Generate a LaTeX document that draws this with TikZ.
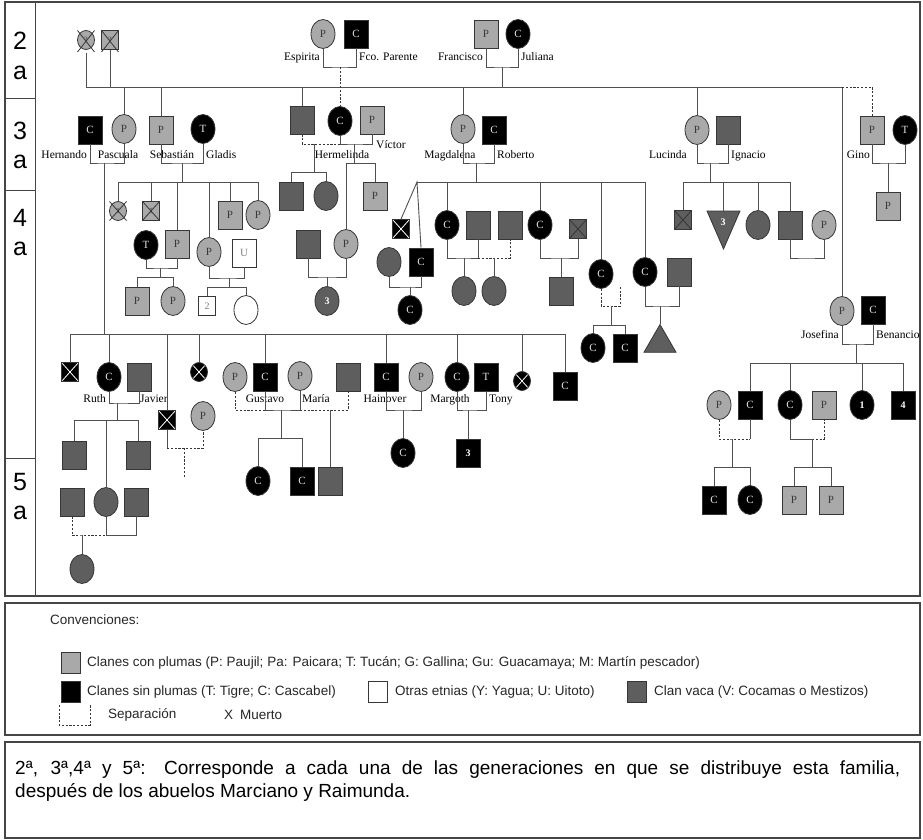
\documentclass[tikz,border=0pt]{standalone}
\usepackage{fontspec}
\setmainfont{Liberation Serif}
\setsansfont{Liberation Sans}
\usepackage{tikz}
\usetikzlibrary{shapes.geometric, positioning}
\definecolor{plumacolor}{HTML}{A9A9A9}
\definecolor{vacacolor}{HTML}{5E5E5E}
\definecolor{edgecolor}{HTML}{363636}
\definecolor{linecolor}{HTML}{505050}
\definecolor{framecolor}{HTML}{454545}
\definecolor{plumatext}{HTML}{3A3A3A}
\definecolor{sintext}{HTML}{E4E4E4}

\begin{document}
\begin{tikzpicture}[x=1pt, y=-1pt,
    sq/.style={rectangle, draw=edgecolor, line width=0.8pt, minimum width=24pt, minimum height=28pt, inner sep=0pt, font=\fontsize{11}{11}\selectfont},
    ci/.style={ellipse, draw=edgecolor, line width=0.8pt, minimum width=24pt, minimum height=29pt, inner sep=0pt, font=\fontsize{11}{11}\selectfont},
    chico/.style={minimum width=17pt, minimum height=19pt, font=\fontsize{8}{8}\selectfont},
    pl/.style={fill=plumacolor, text=plumatext},
    sp/.style={fill=black, text=sintext},
    va/.style={fill=vacacolor, text=white},
    ot/.style={fill=white, text=gray},
    num/.style={font=\fontsize{10}{10}\selectfont\bfseries, text=white},
    dead/.style={path picture={\draw[#1, line width=0.8pt]
        (path picture bounding box.north west) -- (path picture bounding box.south east)
        (path picture bounding box.south west) -- (path picture bounding box.north east);}},
    cruz/.style={draw=edgecolor, line width=0.8pt},
    ln/.style={draw=linecolor, line width=0.9pt},
    sep/.style={draw=edgecolor, line width=0.9pt, dash pattern=on 2.2pt off 1.6pt},
    lbl/.style={font=\fontsize{11.5}{11.5}\selectfont, inner sep=0pt, text height=7.5pt, text depth=2pt},
    gen/.style={font=\sffamily\fontsize{25}{25}\selectfont, inner sep=0pt},
    leg/.style={font=\sffamily\fontsize{13.5}{13.5}\selectfont, text=black!85, anchor=west, inner sep=0pt},
    keybox/.style={rectangle, draw=edgecolor, line width=0.8pt, minimum width=19pt, minimum height=21pt, inner sep=0pt}
]
    \useasboundingbox (0,0) rectangle (923,840);

    % --- marco y columna de generaciones ---
    \draw[framecolor, line width=1.3pt] (5,2) rectangle (920,596);
    \draw[framecolor, line width=1pt] (35,2) -- (35,596);
    \draw[framecolor, line width=1pt] (5,99) -- (35,99) (5,190) -- (35,190) (5,458) -- (35,458);
    \node[gen] (n2) at (20,41) {2};
    \node[gen] (a2) at (20,73) {a};
    \node[gen] (n3) at (20,131) {3};
    \node[gen] (a3) at (20,162) {a};
    \node[gen] (n4) at (20,218) {4};
    \node[gen] (a4) at (20,249) {a};
    \node[gen] (n5) at (20,482) {5};
    \node[gen] (a5) at (20,513) {a};

    % --- 2a generacion ---
    \node[ci, chico, pl] (abuA) at (86,40) {?};
    \node[sq, chico, pl] (abuB) at (110,40) {?};
    \draw[cruz] ([xshift=-8.5pt, yshift=9.5pt]abuA.center) -- ([xshift=8.5pt, yshift=-12pt]abuA.center)
                ([xshift=8.5pt, yshift=9.5pt]abuA.center) -- ([xshift=-8.5pt, yshift=-12pt]abuA.center);
    \draw[cruz] ([xshift=-8.5pt, yshift=9.5pt]abuB.center) -- ([xshift=8.5pt, yshift=-12pt]abuB.center)
                ([xshift=8.5pt, yshift=9.5pt]abuB.center) -- ([xshift=-8.5pt, yshift=-12pt]abuB.center);
    \node[ci, pl] (espirita) at (323,34) {P};
    \node[sq, sp] (parente) at (356,34) {C};
    \node[sq, pl] (francisco) at (486,34) {P};
    \node[ci, sp] (juliana) at (518,34) {C};
    \node[lbl, anchor=east] (lEspirita) at (320,58) {Espirita};
    \node[lbl, anchor=west] (lParente) at (359,58) {Fco. Parente};
    \node[lbl, anchor=east] (lFrancisco) at (483,58) {Francisco};
    \node[lbl, anchor=west] (lJuliana) at (521,58) {Juliana};

    % --- 3a generacion ---
    \node[sq, sp] (hernando) at (90,130) {C};
    \node[ci, pl] (pascuala) at (124,129) {P};
    \node[sq, pl] (sebastian) at (161,130) {P};
    \node[ci, sp] (gladis) at (203,129) {T};
    \node[sq, va] (vacaA) at (302,120) {};
    \node[ci, sp] (hermelinda) at (340,121) {C};
    \node[sq, pl] (victor) at (372,120) {P};
    \node[ci, pl] (magdalena) at (463,129) {P};
    \node[sq, sp] (roberto) at (494,130) {C};
    \node[ci, pl] (lucinda) at (697,130) {P};
    \node[sq, va] (ignacio) at (728,130) {};
    \node[sq, pl] (gino) at (872,130) {P};
    \node[ci, sp] (ginoT) at (905,130) {T};
    \node[lbl, anchor=east] (lHernando) at (87,156) {Hernando};
    \node[lbl] (lPascuala) at (118,156) {Pascuala};
    \node[lbl] (lSebastian) at (172,156) {Sebastián};
    \node[lbl, anchor=west] (lGladis) at (206,156) {Gladis};
    \node[lbl, anchor=west] (lVictor) at (376,146) {Víctor};
    \node[lbl] (lHermelinda) at (342,156) {Hermelinda};
    \node[lbl] (lMagdalena) at (450,156) {Magdalena};
    \node[lbl, anchor=west] (lRoberto) at (497,156) {Roberto};
    \node[lbl] (lLucinda) at (668,156) {Lucinda};
    \node[lbl, anchor=west] (lIgnacio) at (731,156) {Ignacio};
    \node[lbl, anchor=east] (lGino) at (870,156) {Gino};

    % --- 4a generacion: hijos de Sebastian y Gladis ---
    \node[ci, chico, pl] (sA) at (118,211) {1};
    \draw[cruz] ([xshift=-8.5pt, yshift=9.5pt]sA.center) -- ([xshift=8.5pt, yshift=-9.5pt]sA.center)
                ([xshift=8.5pt, yshift=9.5pt]sA.center) -- ([xshift=-8.5pt, yshift=-9.5pt]sA.center);
    \node[sq, chico, pl, dead=edgecolor] (sB) at (151,211) {1};
    \node[sq, pl] (sC) at (177,244) {P};
    \node[ci, sp] (sCw) at (146,245) {T};
    \node[ci, pl] (sD) at (209,252) {P};
    \node[sq, ot] (sDh) at (244,253) {U};
    \node[sq, pl] (sE) at (230,215) {P};
    \node[ci, pl] (sF) at (258,215) {P};
    \node[sq, pl] (sC1) at (137,301) {P};
    \node[ci, pl] (sC2) at (173,301) {P};
    \node[sq, chico, ot, font=\fontsize{10}{10}\selectfont] (sD1) at (207,306) {2};
    \node[ci, ot] (sD2) at (246,310) {};

    % --- hijos de Hermelinda ---
    \node[sq, va] (hA) at (291,196) {};
    \node[ci, va] (hB) at (326,196) {};
    \node[sq, pl] (vA) at (375,196) {P};
    \node[ci, pl] (v2) at (346,244) {P};
    \node[sq, va] (v2h) at (308,244) {};
    \node[ci, va, num] (v2c) at (327,301) {3};

    % --- hijos de Magdalena y Roberto ---
    \node[sq, chico, sp, dead=white] (mA) at (401,229) {};
    \node[sq, sp] (mB) at (421,262) {C};
    \node[ci, va] (mBw) at (389,262) {};
    \node[ci, sp] (mBc) at (410,310) {C};
    \node[ci, sp] (mC) at (447,225) {C};
    \node[sq, va] (mCh1) at (478,225) {};
    \node[sq, va] (mCh2) at (510,225) {};
    \node[ci, va] (mCc1) at (464,291) {};
    \node[ci, va] (mCc2) at (494,291) {};
    \node[ci, sp] (mD) at (540,225) {C};
    \node[sq, chico, va, dead=edgecolor] (mDh) at (578,229) {};
    \node[sq, va] (mDc) at (561,291) {};
    \node[ci, sp] (mE) at (601,274) {C};
    \node[ci, sp] (mEc1) at (593,348) {C};
    \node[sq, sp] (mEc2) at (625,348) {C};
    \node[ci, sp] (mF) at (645,272) {C};
    \node[sq, va] (mFh) at (679,272) {};
    \node[regular polygon, regular polygon sides=3, minimum size=37pt, inner sep=0pt,
          draw=edgecolor, fill=vacacolor, line width=0.8pt] (mFc) at (660,343) {};

    % --- hijos de Lucinda e Ignacio ---
    \node[sq, chico, va, dead=edgecolor] (lA) at (683,220) {};
    \draw[draw=edgecolor, fill=vacacolor, line width=0.8pt] (707,211) -- (740,211) -- (723.5,249) -- cycle;
    \coordinate (lBt) at (723,211);
    \node[num] (lB) at (723,222) {3};
    \node[ci, va] (lC) at (758,225) {};
    \node[sq, va] (lD) at (790,225) {};
    \node[ci, pl] (lDw) at (824,225) {P};

    % --- Gino ---
    \node[sq, pl] (gc) at (888,206) {P};

    % --- Josefina y Benancio ---
    \node[ci, pl] (josefina) at (842,311) {P};
    \node[sq, sp] (benancio) at (873,310) {C};
    \node[lbl, anchor=east] (lJosefina) at (839,336) {Josefina};
    \node[lbl, anchor=west] (lBenancio) at (876,336) {Benancio};
    \node[ci, pl] (jA) at (719,405) {P};
    \node[sq, sp] (jB) at (750,405) {C};
    \node[ci, sp] (jC) at (790,405) {C};
    \node[sq, pl] (jD) at (824,405) {P};
    \node[ci, sp, num] (jE) at (862,405) {1};
    \node[sq, sp, num] (jF) at (903,405) {4};
    \node[sq, sp] (jB1) at (714,500) {C};
    \node[ci, sp] (jB2) at (750,500) {C};
    \node[sq, pl] (jC1) at (794,500) {P};
    \node[sq, pl] (jC2) at (831,500) {P};

    % --- hijos de Pascuala y Hernando ---
    \node[sq, chico, sp, dead=white] (pA) at (70,372) {};
    \node[ci, sp] (ruth) at (109,377) {C};
    \node[sq, va] (javier) at (139,377) {};
    \node[sq, va] (r1) at (74,455) {};
    \node[ci, va] (r2) at (106,502) {};
    \node[sq, va] (r3) at (138,455) {};
    \node[sq, va] (r1b) at (72,502) {};
    \node[sq, va] (r3b) at (136,502) {};
    \node[ci, va] (r2c) at (82,569) {};
    \node[sq, chico, sp, dead=white] (pC) at (167,420) {};
    \node[ci, pl] (pCw) at (203,416) {P};
    \node[ci, chico, sp, dead=white] (pD) at (199,372) {};
    \node[sq, sp] (gustavo) at (265,377) {C};
    \node[ci, pl] (gusw) at (235,377) {P};
    \node[ci, pl] (maria) at (300,376) {P};
    \node[sq, va] (mariah) at (348,377) {};
    \node[ci, sp] (gc1) at (258,481) {C};
    \node[sq, sp] (gc2) at (302,481) {C};
    \node[sq, va] (mc) at (330,481) {};
    \node[sq, sp] (hainover) at (386,377) {C};
    \node[ci, pl] (hainw) at (421,377) {P};
    \node[ci, sp] (hc) at (403,453) {C};
    \node[ci, sp] (margoth) at (457,377) {C};
    \node[sq, sp] (tony) at (486,377) {T};
    \node[sq, sp, num] (tc) at (468,453) {3};
    \node[ci, chico, sp, dead=white] (pH) at (522,381) {};
    \node[sq, sp] (pI) at (565,386) {C};
    \node[lbl, anchor=east] (lRuth) at (106,400) {Ruth};
    \node[lbl, anchor=west] (lJavier) at (140,400) {Javier};
    \node[lbl] (lGustavo) at (265,400) {Gustavo};
    \node[lbl, anchor=west] (lMaria) at (302,400) {María};
    \node[lbl] (lHainover) at (385,400) {Hainover};
    \node[lbl] (lMargoth) at (450,400) {Margoth};
    \node[lbl, anchor=west] (lTony) at (489,400) {Tony};

    % --- conexiones 2a ---
    \coordinate (g2L) at (86,87);
    \coordinate (g2R) at (842,87);
    \draw[ln] (abuA.south) ++(0,3) -- (abuA.south |- g2L) -- (g2R);
    \draw[ln] (abuB.south) -- (abuB.south |- g2L);
    \coordinate (epJ) at (340,67);
    \draw[ln] (espirita.south) |- (epJ) -| (parente.south);
    \draw[sep] (epJ) -- (hermelinda.north);
    \coordinate (fjJ) at (502,67);
    \draw[ln] (francisco.south) |- (fjJ) -| (juliana.south);
    \draw[ln] (fjJ) -- (fjJ |- g2L);
    \draw[ln] (pascuala.north) -- (pascuala.north |- g2L);
    \draw[ln] (sebastian.north) -- (sebastian.north |- g2L);
    \draw[ln] (vacaA.north) -- (vacaA.north |- g2L);
    \draw[ln] (magdalena.north) -- (magdalena.north |- g2L);
    \draw[ln] (lucinda.north) -- (lucinda.north |- g2L);
    \draw[ln] (josefina.north) -- (josefina.north |- g2L);
    \draw[sep] (g2R) -| (gino.north);

    % --- conexiones 3a ---
    \coordinate (hpJ) at (104,163);
    \draw[ln] (hernando.south) |- (hpJ) -| (pascuala.south);
    \coordinate (sgJ) at (182,163);
    \draw[ln] (sebastian.south) |- (sgJ) -| (gladis.south);
    \coordinate (sgL) at (118,182);
    \coordinate (sgR) at (258,182);
    \draw[ln] (sgJ) -- (sgJ |- sgL);
    \draw[ln] (sgL) -- (sgR);
    \draw[ln] (sA.north) -- (sA.north |- sgL);
    \draw[ln] (sB.north) -- (sB.north |- sgL);
    \draw[ln] (sC.north) -- (sC.north |- sgL);
    \draw[ln] (sD.north) -- (sD.north |- sgL);
    \draw[ln] (sE.north) -- (sE.north |- sgL);
    \draw[ln] (sF.north) -- (sF.north |- sgL);
    \coordinate (sCJ) at (160,268);
    \draw[ln] (sCw.south) |- (sCJ) -| (sC.south);
    \coordinate (sCL) at (137,277);
    \draw[ln] (sCJ) -- (sCJ |- sCL);
    \draw[ln] (sC1.north) |- (sCL) -| (sC2.north);
    \coordinate (sDJ) at (229,278);
    \draw[ln] (sD.south) |- (sDJ) -| (sDh.south);
    \coordinate (sDL) at (207,287);
    \draw[ln] (sDJ) -- (sDJ |- sDL);
    \draw[ln] (sD1.north) |- (sDL) -| (sD2.north);

    \coordinate (vhJ) at (314,144);
    \draw[sep] (vacaA.south) |- (vhJ) -- (hermelinda.south |- vhJ);
    \coordinate (vhL) at (291,172);
    \draw[ln] (vhJ) -- (vhJ |- vhL);
    \draw[ln] (hA.north) |- (vhL) -| (hB.north);
    \coordinate (hvJ) at (354,144);
    \draw[ln] (hermelinda.south) |- (hvJ) -| (victor.south);
    \coordinate (hvL) at (346,163);
    \draw[ln] (hvJ) -- (hvJ |- hvL);
    \draw[ln] (v2.north) |- (hvL) -| (vA.north);
    \coordinate (v2J) at (327,277);
    \draw[ln] (v2h.south) |- (v2J) -| (v2.south);
    \draw[ln] (v2J) -- (v2c.north);

    \coordinate (mrJ) at (476,163);
    \draw[ln] (magdalena.south) |- (mrJ) -| (roberto.south);
    \coordinate (mL) at (417,182);
    \coordinate (mR) at (645,182);
    \draw[ln] (mrJ) -- (mrJ |- mL);
    \draw[ln] (mL) -- (mR);
    \draw[ln] (mA.north) -- (mL) -- (mB.north);
    \draw[ln] (mC.north) -- (mC.north |- mL);
    \draw[ln] (mD.north) -- (mD.north |- mL);
    \draw[ln] (mE.north) -- (mE.north |- mL);
    \draw[ln] (mF.north) -- (mF.north |- mL);
    \coordinate (mBJ) at (410,287);
    \draw[ln] (mBw.south) |- (mBJ) -| (mB.south);
    \draw[ln] (mBJ) -- (mBc.north);
    \coordinate (mCJ) at (464,258);
    \draw[ln] (mC.south) |- (mCJ) -| (mCh1.south);
    \draw[ln] (mCJ) -- (mCc1.north);
    \coordinate (mCK) at (494,258);
    \draw[sep] (mCh1.south |- mCK) -| (mCh2.south);
    \draw[ln] (mCK) -- (mCc2.north);
    \coordinate (mDJ) at (561,258);
    \draw[ln] (mD.south) |- (mDJ) -| (mDh.south);
    \draw[ln] (mDJ) -- (mDc.north);
    \coordinate (mEJ) at (611,306);
    \coordinate (mEE) at (620,287);
    \draw[sep] (mE.south) |- (mEJ) -| (mEE);
    \coordinate (mEL) at (593,325);
    \draw[ln] (mEJ) -- (mEJ |- mEL);
    \draw[ln] (mEc1.north) |- (mEL) -| (mEc2.north);
    \coordinate (mFJ) at (660,306);
    \draw[ln] (mF.south) |- (mFJ) -| (mFh.south);
    \draw[ln] (mFJ) -- (mFc.north);

    \coordinate (liJ) at (710,163);
    \draw[ln] (lucinda.south) |- (liJ) -| (ignacio.south);
    \coordinate (lL) at (683,182);
    \coordinate (lR) at (790,182);
    \draw[ln] (liJ) -- (liJ |- lL);
    \draw[ln] (lL) -- (lR);
    \draw[ln] (lA.north) -- (lA.north |- lL);
    \draw[ln] (lBt) -- (lBt |- lL);
    \draw[ln] (lC.north) -- (lC.north |- lL);
    \draw[ln] (lD.north) -- (lD.north |- lL);
    \coordinate (lDJ) at (806,258);
    \draw[ln] (lD.south) |- (lDJ) -| (lDw.south);

    \coordinate (giJ) at (888,163);
    \draw[ln] (gino.south) |- (giJ) -| (ginoT.south);
    \draw[ln] (giJ) -- (gc.north);

    % --- Josefina ---
    \coordinate (jbJ) at (856,344);
    \draw[ln] (josefina.south) |- (jbJ) -| (benancio.south);
    \coordinate (jL) at (750,363);
    \coordinate (jR) at (903,363);
    \draw[ln] (jbJ) -- (jbJ |- jL);
    \draw[ln] (jL) -- (jR);
    \draw[ln] (jB.north) -- (jB.north |- jL);
    \draw[ln] (jC.north) -- (jC.north |- jL);
    \draw[ln] (jE.north) -- (jE.north |- jL);
    \draw[ln] (jF.north) -- (jF.north |- jL);
    \coordinate (jABJ) at (732,439);
    \draw[sep] (jA.south) |- (jABJ) -- (jB.south |- jABJ);
    \draw[ln] (jB.south) -- (jB.south |- jABJ);
    \coordinate (jABL) at (714,467);
    \draw[ln] (jABJ) -- (jABJ |- jABL);
    \draw[ln] (jB1.north) |- (jABL) -| (jB2.north);
    \coordinate (jCDJ) at (812,439);
    \draw[ln] (jC.south) |- (jCDJ);
    \draw[sep] (jCDJ) -| (jD.south);
    \coordinate (jCDL) at (794,467);
    \draw[ln] (jCDJ) -- (jCDJ |- jCDL);
    \draw[ln] (jC1.north) |- (jCDL) -| (jC2.north);

    % --- 4a y 5a: rama de Pascuala ---
    \coordinate (g4L) at (70,334);
    \coordinate (g4R) at (565,334);
    \draw[ln] (hpJ) -- (hpJ |- g4L);
    \draw[ln] (g4L) -- (g4R);
    \draw[ln] (pA.north) -- (pA.north |- g4L);
    \draw[ln] (ruth.north) -- (ruth.north |- g4L);
    \draw[ln] (pC.north) -- (pC.north |- g4L);
    \draw[ln] (pD.north) -- (pD.north |- g4L);
    \draw[ln] (gustavo.north) -- (gustavo.north |- g4L);
    \draw[ln] (hainover.north) -- (hainover.north |- g4L);
    \draw[ln] (margoth.north) -- (margoth.north |- g4L);
    \draw[ln] (pH.north) -- (pH.north |- g4L);
    \draw[ln] (pI.north) -- (pI.north |- g4L);
    \coordinate (rjJ) at (117,403);
    \draw[ln] (ruth.south) |- (rjJ) -| (javier.south);
    \coordinate (rL) at (74,420);
    \draw[ln] (rjJ) -- (rjJ |- rL);
    \draw[ln] (r1.north) |- (rL) -| (r3.north);
    \draw[ln] (r2.north) -- (r2.north |- rL);
    \coordinate (rbJ) at (82,535);
    \draw[sep] (r1b.south) |- (rbJ) -- (r2.south |- rbJ);
    \draw[ln] (r2.south) -- (r2.south |- rbJ) -| (r3b.south);
    \draw[ln] (rbJ) -- (r2c.north);
    \coordinate (pCJ) at (184,448);
    \coordinate (pCE) at (184,478);
    \draw[ln] (pC.south) -- (pC.south |- pCJ);
    \draw[sep] (pC.south |- pCJ) -| (pCw.south);
    \draw[sep] (pCJ) -- (pCE);
    \coordinate (gwJ) at (281,410);
    \draw[sep] (gusw.south) |- (gustavo.south |- gwJ);
    \draw[ln] (gustavo.south) |- (gwJ) -| (maria.south);
    \coordinate (mhJ) at (330,410);
    \draw[sep] (maria.south |- mhJ) -| (mariah.south);
    \coordinate (gcL) at (258,438);
    \draw[ln] (gwJ) -- (gwJ |- gcL);
    \draw[ln] (gc1.north) |- (gcL) -| (gc2.north);
    \draw[ln] (mhJ) -- (mc.north);
    \coordinate (haJ) at (403,410);
    \draw[ln] (hainover.south) |- (haJ) -| (hainw.south);
    \draw[ln] (haJ) -- (hc.north);
    \coordinate (mtJ) at (468,410);
    \draw[ln] (margoth.south) |- (mtJ) -| (tony.south);
    \draw[ln] (mtJ) -- (tc.north);

    % --- convenciones ---
    \draw[framecolor, line width=1.2pt] (5,603) rectangle (920,735);
    \node[leg] (conv) at (50,620) {Convenciones:};
    \node[keybox, fill=plumacolor] (kPl) at (71,663) {};
    \node[leg] (tPl) at (87,663) {Clanes con plumas (P: Paujil; Pa: Paicara; T: Tucán; G: Gallina; Gu: Guacamaya; M: Martín pescador)};
    \node[keybox, fill=black] (kSin) at (71,692) {};
    \node[leg] (tSin) at (87,692) {Clanes sin plumas (T: Tigre; C: Cascabel)};
    \node[keybox, fill=white] (kOtra) at (378,692) {};
    \node[leg] (tOtra) at (395,692) {Otras etnias (Y: Yagua; U: Uitoto)};
    \node[keybox, fill=vacacolor] (kVaca) at (637,692) {};
    \node[leg] (tVaca) at (654,692) {Clan vaca (V: Cocamas o Mestizos)};
    \draw[sep] (59,705) -- (59,725) -- (90,725) -- (90,705);
    \node[leg] (tSep) at (108,715) {Separación};
    \node[leg] (tX) at (224,715) {X};
    \node[leg] (tMuerto) at (240,715) {Muerto};

    % --- nota ---
    \draw[framecolor, line width=1.2pt] (5,742) rectangle (920,838);
    \node[anchor=north west, inner sep=0pt, text width=885pt, align=justify,
          font=\sffamily\fontsize{19}{23}\selectfont] (nota) at (15,761)
        {2ª, 3ª,4ª y 5ª: Corresponde a cada una de las generaciones en que se distribuye esta familia,\linebreak después de los abuelos Marciano y Raimunda.};
\end{tikzpicture}
\end{document}
